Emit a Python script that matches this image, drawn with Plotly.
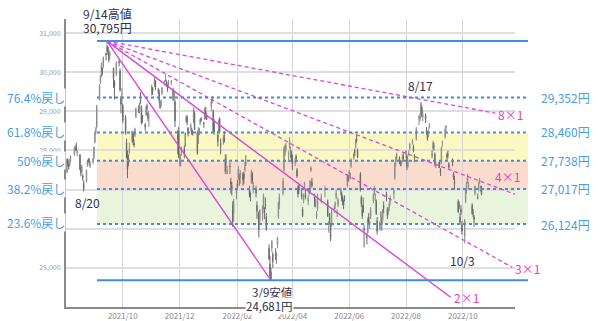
import pandas as pd
import plotly.graph_objects as go

# ---------------- data ----------------
holidays = ["2021-08-09", "2021-09-20", "2021-09-23", "2021-11-03", "2021-11-23", "2021-12-31",
            "2022-01-03", "2022-01-10", "2022-02-11", "2022-02-23", "2022-03-21", "2022-04-29",
            "2022-05-03", "2022-05-04", "2022-05-05", "2022-07-18", "2022-08-11", "2022-09-19",
            "2022-09-23", "2022-10-10"]

opens = [
    27440, 27760, 27630, 27620, 27800,
    27900, 28050, 28100, 27930,
    27890, 27560, 27470, 27350, 27170,
    27200, 27620, 27770, 27760, 27640,
    27700, 27820, 28210, 28480, 28600,
    29290, 29750, 29890, 30110, 30150,
    30480, 30520, 30640, 30480, 30420,
    30100, 29760, 29950,
    30270, 30040, 29350, 29450, 29150,
    28840, 28200, 27900, 27800, 27940,
    28250, 28420, 28190, 28380, 28860,
    29050, 29050, 29290, 29100, 28900,
    28660, 28900, 29130, 28970, 28880,
    29450, 29600, 29700, 29770,
    29540, 29480, 29200, 29150, 29460,
    29770, 29800, 29760, 29640, 29700,
    29740, 29550, 29300, 29250,
    28390, 28500, 27800, 27600, 28000,
    28050, 28100, 28750, 28850, 28570,
    28550, 28500, 28480, 28750, 28950,
    28450, 28180, 28400, 28700, 28820,
    28700, 28800, 29000, 28900,
    29100, 29300, 29000, 28700,
    28400, 28500, 28800, 28200,
    28200, 28300, 27800, 27700, 27400,
    27600, 27200, 27100, 26600, 26400,
    26900, 27150, 27300, 27300, 27300,
    27400, 27400, 27500, 27700,
    27000, 26900, 27200, 27400, 27000,
    27000, 26600, 26400, 26200,
    26400, 26600, 26500, 26600, 26300,
    25500, 25100, 24900, 25500, 25350,
    25350, 25300, 25600, 26300, 26600,
    26900, 27500, 27900, 28000,
    27900, 28100, 28000, 27900, 27800,
    27700, 27850, 27500, 27000, 27100,
    26900, 26500, 26700, 27100, 26900,
    26700, 26900, 26950, 27500, 27200,
    26800, 26650, 26300, 26500,
    26700, 27000,
    26700, 26100, 26300, 26100, 26100,
    26500, 26600, 26800, 26400, 26600,
    26900, 26900, 26800, 26700, 26800,
    27100, 27300, 27400, 27300, 27600,
    27800, 28000, 28100, 28300, 28000,
    27400, 26800, 26500, 26600, 26000,
    25800, 25900, 26300, 26100, 26300,
    26700, 26900, 26800, 26700, 26200,
    26000, 26300, 26200, 26250, 26600,
    26900, 26500, 26450, 26550, 26700,
    26900, 27300, 27700, 27800,
    27800, 27700, 27650, 27800, 27850,
    27900, 27850, 27600, 27900, 28050,
    28200, 28100, 27850, 28300,
    28800, 28800, 28900, 29100, 28850,
    28900, 28500, 28400, 28400, 28600,
    27900, 28050, 28100, 27900, 27600,
    27600, 27700, 27500, 27700, 28200,
    28350, 28600, 27900, 27900, 27650,
    27700, 27400, 27200,
    26700, 26600, 26300, 26500, 26100,
    25800, 26700, 27000, 27200, 27100,
    26600, 26400, 26300, 26900,
    26800, 27000, 27200, 27000, 27000,
]
highs = [
    27785, 27800, 27690, 27790, 27880,
    28100, 28140, 28200, 28020,
    27900, 27610, 27640, 27410, 27230,
    27510, 27760, 27800, 27800, 27720,
    27820, 28100, 28500, 28600, 29170,
    29700, 29920, 30250, 30120, 30400,
    30500, 30795, 30660, 30520, 30560,
    30120, 29800, 30280,
    30340, 30100, 29400, 29600, 29200,
    28900, 28300, 28000, 27900, 28200,
    28500, 28450, 28280, 28580, 29100,
    29150, 29220, 29490, 29150, 28900,
    28700, 29150, 29200, 29020, 28930,
    29680, 29620, 29880, 29800,
    29600, 29560, 29260, 29300, 29620,
    29800, 29960, 29790, 29700, 29800,
    29800, 29600, 29550, 29300,
    28520, 28600, 28000, 27900, 28100,
    28130, 28460, 28900, 28900, 28600,
    28700, 28570, 28530, 29100, 29000,
    28500, 28600, 28580, 28800, 28850,
    28730, 29100, 29120, 28950,
    29320, 29388, 29050, 28800,
    28500, 28800, 28850, 28300,
    28400, 28500, 27900, 27900, 27600,
    27700, 27300, 27200, 26700, 26760,
    27050, 27250, 27600, 27400, 27500,
    27450, 27450, 27700, 27880,
    27100, 26950, 27500, 27450, 27200,
    27100, 26700, 26450, 26500,
    26600, 26900, 26550, 26800, 26400,
    25600, 25300, 25000, 25700, 25400,
    25500, 25400, 25800, 26700, 26900,
    27300, 28100, 28150, 28200,
    28000, 28338, 28100, 28000, 27900,
    27800, 27900, 27550, 27100, 27150,
    27000, 26550, 26900, 27200, 27000,
    26850, 27050, 27250, 27600, 27300,
    26900, 26750, 26450, 26900,
    26900, 27100,
    26750, 26200, 26400, 26150, 26500,
    26600, 26700, 27000, 26500, 26800,
    27050, 26950, 26850, 26750, 26850,
    27400, 27350, 27500, 27450, 27800,
    27950, 28050, 28300, 28389, 28050,
    27450, 26850, 26600, 26800, 26100,
    25900, 26300, 26400, 26200, 26550,
    26900, 27100, 26900, 26750, 26300,
    26200, 26450, 26300, 26500, 26700,
    26950, 26550, 26550, 26700, 26850,
    27000, 27700, 27850, 27950,
    27850, 27750, 27750, 27900, 27950,
    28000, 27900, 27800, 28000, 28200,
    28300, 28150, 27900, 28600,
    28900, 28950, 29222, 29150, 29000,
    28950, 28600, 28500, 28550, 28700,
    28000, 28250, 28200, 27950, 27700,
    27700, 27750, 27550, 28100, 28250,
    28600, 28650, 27950, 28000, 27700,
    27800, 27450, 27350,
    26750, 26700, 26400, 26600, 26200,
    26250, 27000, 27200, 27400, 27200,
    26650, 26500, 26350, 27100,
    26900, 27200, 27300, 27100, 27100,
]
lows = [
    27420, 27590, 27510, 27590, 27700,
    27860, 27980, 27980, 27850,
    27490, 27340, 27430, 27220, 26954,
    27180, 27580, 27680, 27600, 27550,
    27650, 27780, 28180, 28410, 28560,
    29280, 29700, 29870, 29920, 30100,
    30300, 30500, 30440, 30250, 30320,
    29600, 29300, 29900,
    30150, 29500, 28950, 29250, 28700,
    28400, 27800, 27293, 27600, 27900,
    28200, 28150, 28080, 28340, 28830,
    28950, 28950, 29200, 28670, 28700,
    28500, 28880, 29030, 28750, 28600,
    29400, 29420, 29630, 29540,
    29440, 29200, 29060, 29110, 29410,
    29650, 29750, 29620, 29500, 29600,
    29660, 29260, 29290, 28600,
    27900, 27800, 27600, 27588, 27870,
    27800, 28090, 28700, 28640, 28360,
    28500, 28400, 28380, 28700, 28520,
    27890, 28170, 28400, 28650, 28730,
    28580, 28780, 28820, 28780,
    29000, 29200, 28450, 28400,
    28100, 28450, 28450, 27900,
    28150, 28200, 27400, 27550, 27400,
    27400, 26900, 26850, 26044, 26200,
    26750, 27000, 27280, 27100, 27150,
    27100, 27150, 27450, 27600,
    26800, 26700, 27150, 27150, 26900,
    26800, 26250, 25775, 26150,
    26200, 26500, 26250, 26500, 25950,
    25200, 24700, 24681, 25400, 25000,
    25200, 25100, 25500, 26250, 26500,
    26850, 27450, 27850, 27950,
    27700, 28050, 27800, 27700, 27500,
    27600, 27700, 27300, 26800, 26900,
    26750, 26300, 26650, 27000, 26750,
    26600, 26850, 26900, 27450, 27050,
    26550, 26550, 26250, 26450,
    26650, 26800,
    26300, 25900, 26100, 25688, 26050,
    26400, 26500, 26750, 26300, 26550,
    26850, 26700, 26600, 26500, 26700,
    27050, 27200, 27300, 27250, 27550,
    27750, 27850, 28050, 28200, 27800,
    26950, 26550, 26250, 26400, 25520,
    25600, 25880, 26100, 26000, 26250,
    26650, 26850, 26700, 26350, 25850,
    25950, 26200, 25950, 26200, 26400,
    26700, 26250, 26350, 26450, 26600,
    26750, 27250, 27600, 27750,
    27650, 27600, 27600, 27700, 27750,
    27800, 27500, 27550, 27850, 28000,
    28150, 27950, 27700, 28250,
    28650, 28750, 28850, 28850, 28750,
    28700, 28400, 28250, 28350, 28550,
    27800, 28000, 28000, 27600, 27550,
    27550, 27550, 27350, 27650, 28100,
    28300, 28500, 27750, 27800, 27500,
    27600, 27250, 27000,
    26400, 26500, 26100, 26350, 25850,
    25621, 26650, 26900, 27150, 27000,
    26350, 26300, 26050, 26850,
    26750, 26950, 27150, 26950, 26850,
]
closes = [
    27781, 27641, 27584, 27728, 27820,
    28070, 28070, 28015, 27977,
    27523, 27424, 27585, 27281, 27013,
    27494, 27732, 27724, 27742, 27641,
    27789, 28089, 28451, 28543, 29128,
    29660, 29916, 30181, 30008, 30381,
    30447, 30670, 30511, 30323, 30500,
    29840, 29639, 30249,
    30240, 29544, 29183, 29453, 28771,
    28444, 27822, 27528, 27678, 28048,
    28498, 28230, 28140, 28551, 29068,
    29025, 29215, 29255, 28708, 28804,
    28600, 29106, 29098, 28820, 28892,
    29647, 29520, 29794, 29611,
    29507, 29285, 29106, 29277, 29609,
    29776, 29808, 29688, 29598, 29745,
    29774, 29302, 29499, 28751,
    28283, 27821, 27935, 27753, 28029,
    27927, 28455, 28860, 28725, 28437,
    28640, 28432, 28459, 29066, 28545,
    27937, 28517, 28562, 28798, 28782,
    28676, 29069, 28906, 28791,
    29301, 29332, 28487, 28478,
    28222, 28765, 28489, 28124,
    28333, 28257, 27467, 27772, 27522,
    27588, 27131, 27011, 26170, 26717,
    27001, 27078, 27533, 27241, 27439,
    27248, 27284, 27579, 27696,
    26865, 26865, 27460, 27232, 27122,
    26910, 26449, 25970, 26476,
    26526, 26844, 26393, 26577, 25985,
    25221, 24790, 24717, 25690, 25163,
    25307, 25346, 25762, 26652, 26827,
    27224, 28040, 28110, 28149,
    27943, 28252, 28027, 27821, 27665,
    27736, 27787, 27350, 26888, 26985,
    26821, 26334, 26843, 27172, 26799,
    26799, 26985, 27217, 27553, 27105,
    26590, 26700, 26386, 26847,
    26818, 27003,
    26319, 26167, 26213, 25748, 26427,
    26547, 26659, 26911, 26402, 26739,
    27001, 26748, 26677, 26604, 26781,
    27369, 27279, 27457, 27413, 27761,
    27915, 27943, 28234, 28246, 27824,
    26987, 26629, 26326, 26431, 25963,
    25771, 26246, 26149, 26171, 26491,
    26871, 27049, 26804, 26393, 25935,
    26153, 26423, 26107, 26490, 26517,
    26812, 26336, 26478, 26643, 26788,
    26961, 27680, 27803, 27914,
    27699, 27655, 27715, 27815, 27801,
    27993, 27594, 27741, 27932, 28175,
    28249, 27999, 27819, 28547,
    28871, 28868, 29222, 28942, 28930,
    28794, 28452, 28313, 28479, 28641,
    27878, 28195, 28091, 27661, 27650,
    27619, 27626, 27430, 28065, 28214,
    28542, 28614, 27818, 27876, 27567,
    27688, 27313, 27153,
    26431, 26571, 26173, 26422, 25937,
    26215, 26992, 27120, 27311, 27116,
    26401, 26397, 26237, 27090,
    26775, 27156, 27257, 27007, 26891,
]

high_date, high_value = "2021-09-14", 30795
low_date, low_value = "2022-03-09", 24681

fib_left_labels = ["76.4%戻し", "61.8%戻し", "50%戻し", "38.2%戻し", "23.6%戻し"]
fib_values = [29352, 28460, 27738, 27017, 26124]
fib_right_labels = ["29,352円", "28,460円", "27,738円", "27,017円", "26,124円"]

fan_names = ["1×1", "2×1", "3×1", "4×1", "8×1"]
fan_end_dates = ["2022-03-09", "2022-09-18", "2022-11-23", "2022-11-26", "2022-11-05"]
fan_end_values = [24681, 24248, 25015, 26882, 28954]

y_ticks = [25000, 26000, 27000, 28000, 29000, 30000, 31000]
y_tick_labels = ["25,000", "", "", "28,000", "29,000", "30,000", "31,000"]
x_ticks = ["2021-10-01", "2021-12-01", "2022-02-01", "2022-04-01", "2022-06-01",
           "2022-08-01", "2022-10-01"]
x_tick_labels = ["2021/10", "2021/12", "2022/02", "2022/04", "2022/06", "2022/08", "2022/10"]

# ---------------- figure ----------------
dates = pd.bdate_range("2021-08-02", "2022-10-21", freq="C", holidays=holidays)
n = min(len(dates), len(closes))
dates = dates[:n]

L, R, T, B = 66, 515, 19, 307
W, H = 600, 321


def xp(px):
    return (px - L) / (R - L)


def yp(py):
    return (B - py) / (B - T)


BLUE_TXT = "#4a9de0"
BLUE_LINE = "#3d8fe0"
MAG = "#dd44dd"
MAG_TXT = "#e03fc8"
NAVY = "#2d3150"
FONT = "Noto Sans CJK JP"

fig = go.Figure()

shapes = []
zone_cols = ["#fcf8c2", "#fcdccc", "#e9f4dd"]
for i, col in enumerate(zone_cols):
    shapes.append(dict(type="rect", xref="paper", yref="y", x0=xp(97), x1=xp(528),
                       y0=fib_values[i + 2], y1=fib_values[i + 1], fillcolor=col,
                       line=dict(width=0), layer="below"))

fig.add_trace(go.Candlestick(
    x=dates, open=opens[:n], high=highs[:n], low=lows[:n], close=closes[:n],
    increasing=dict(line=dict(color="#8c8c8c", width=1), fillcolor="#d6d6d6"),
    decreasing=dict(line=dict(color="#6a6a6a", width=1), fillcolor="#707070"),
    whiskerwidth=0, hoverinfo="skip", showlegend=False,
))

for name, d, v in zip(fan_names, fan_end_dates, fan_end_values):
    solid = name in ("1×1", "2×1")
    fig.add_trace(go.Scatter(
        x=[high_date, d], y=[high_value, v], mode="lines",
        line=dict(color=MAG, width=1.4 if solid else 1.3, dash="solid" if solid else "4px,3px"),
        hoverinfo="skip", showlegend=False,
    ))

for v in fib_values:
    shapes.append(dict(type="line", xref="paper", yref="y", x0=xp(97), x1=xp(528), y0=v, y1=v,
                       line=dict(color=BLUE_LINE, width=2, dash="dot"), layer="above"))
for v in (high_value, low_value):
    shapes.append(dict(type="line", xref="paper", yref="y", x0=xp(97), x1=xp(528), y0=v, y1=v,
                       line=dict(color=BLUE_LINE, width=2), layer="above"))

annotations = []
left_y = [97, 131, 160, 188, 222]
right_y = [97, 131, 160, 188, 224]
for lab, py in zip(fib_left_labels, left_y):
    annotations.append(dict(xref="paper", yref="paper", x=xp(66), y=yp(py), text=lab,
                            xanchor="right", yanchor="middle", showarrow=False,
                            font=dict(family=FONT, size=12, color=BLUE_TXT),
                            bgcolor="white", borderpad=0))
for lab, py in zip(fib_right_labels, right_y):
    annotations.append(dict(xref="paper", yref="paper", x=xp(539), y=yp(py), text=lab,
                            xanchor="left", yanchor="middle", showarrow=False,
                            font=dict(family=FONT, size=12, color=BLUE_TXT)))

fan_label_pos = {"8×1": (510, 114), "4×1": (507, 176), "3×1": (527, 268), "2×1": (466, 297)}
for name, (px, py) in fan_label_pos.items():
    annotations.append(dict(xref="paper", yref="paper", x=xp(px), y=yp(py), text=name,
                            xanchor="center", yanchor="middle", showarrow=False,
                            font=dict(family=FONT, size=12, color=MAG_TXT)))

navy_labels = [("9/14高値", 107, 13, 12, False), ("30,795円", 107, 27, 12, False),
               ("8/17", 420, 86, 12, False), ("8/20", 87, 202, 12, False),
               ("10/3", 462, 260, 12, False), ("3/9安値", 272, 292, 11.5, False),
               ("24,681円", 269, 306, 11.5, True)]
for text, px, py, fs, bg in navy_labels:
    a = dict(xref="paper", yref="paper", x=xp(px), y=yp(py), text=text,
             xanchor="center", yanchor="middle", showarrow=False,
             font=dict(family=FONT, size=fs, color=NAVY))
    if bg:
        a["bgcolor"] = "white"
        a["borderpad"] = 0
    annotations.append(a)

fig.update_layout(
    width=W, height=H,
    margin=dict(l=L, r=W - R, t=T, b=H - B, pad=0, autoexpand=False),
    paper_bgcolor="white", plot_bgcolor="white",
    shapes=shapes, annotations=annotations,
    showlegend=False, hovermode=False,
    font=dict(family=FONT),
    xaxis=dict(
        type="date", range=["2021-08-01", "2022-11-26"],
        rangeslider=dict(visible=False), automargin=False,
        tickvals=x_ticks, ticktext=x_tick_labels,
        showgrid=True, gridcolor="#d4d4d4", gridwidth=1,
        showline=True, linecolor="#8a8a8a", linewidth=2,
        ticks="", tickfont=dict(size=8, color="#888888"),
        zeroline=False,
    ),
    yaxis=dict(
        range=[24000, 31360], tickvals=y_ticks, ticktext=y_tick_labels, automargin=False,
        showgrid=True, gridcolor="#dedede", gridwidth=1.5,
        showline=True, linecolor="#8a8a8a", linewidth=2,
        ticks="", tickfont=dict(size=7, color="#999999"),
        ticklabelstandoff=2, zeroline=False,
    ),
)

fig.write_html("out.html", config={"displayModeBar": False})
